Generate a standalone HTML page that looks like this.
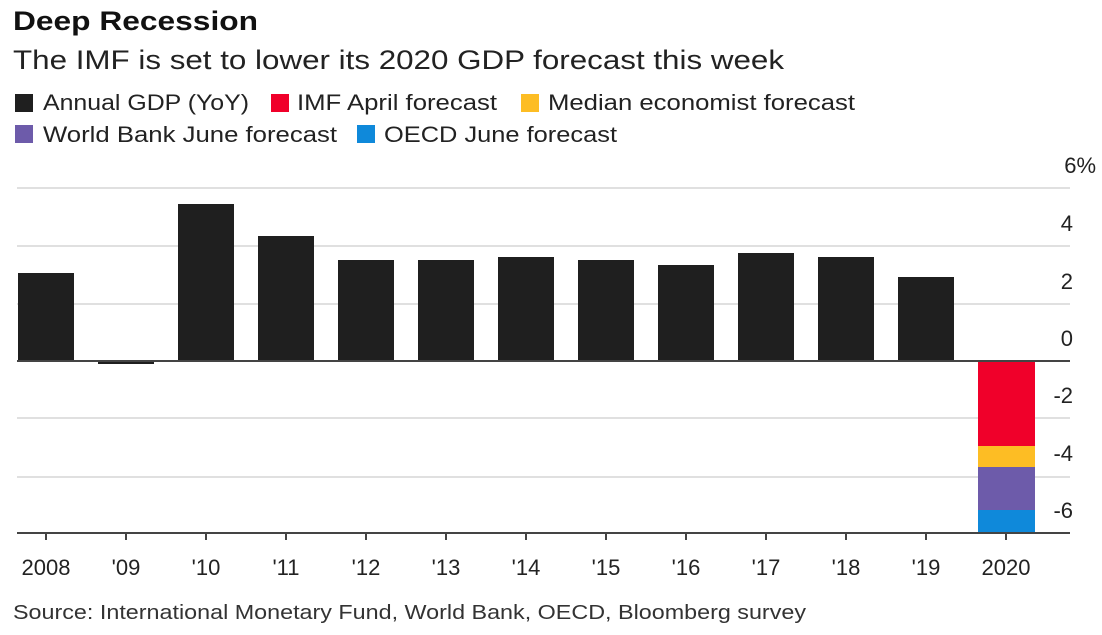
<!DOCTYPE html>
<html><head><meta charset="utf-8"><style>
html,body{margin:0;padding:0;background:#fff;}
body{width:1102px;height:630px;overflow:hidden;font-family:"Liberation Sans",sans-serif;}
</style></head><body>
<svg width="1102" height="630" xmlns="http://www.w3.org/2000/svg" font-family="Liberation Sans, sans-serif">
<text x="13" y="30" font-size="27" font-weight="bold" fill="#111" textLength="245" lengthAdjust="spacingAndGlyphs">Deep Recession</text>
<text x="13" y="69" font-size="27" fill="#222" textLength="771" lengthAdjust="spacingAndGlyphs">The IMF is set to lower its 2020 GDP forecast this week</text>
<g font-size="22" fill="#222">
<rect x="15" y="94" width="18" height="18" fill="#1f1f1f"/><text x="43" y="110" textLength="206" lengthAdjust="spacingAndGlyphs">Annual GDP (YoY)</text>
<rect x="271" y="94" width="18" height="18" fill="#f0002a"/><text x="297" y="110" textLength="200" lengthAdjust="spacingAndGlyphs">IMF April forecast</text>
<rect x="521" y="94" width="18" height="18" fill="#fdbd24"/><text x="548" y="110" textLength="307" lengthAdjust="spacingAndGlyphs">Median economist forecast</text>
<rect x="15" y="125" width="18" height="18" fill="#6d5baa"/><text x="43" y="142" textLength="294" lengthAdjust="spacingAndGlyphs">World Bank June forecast</text>
<rect x="357" y="125" width="18" height="18" fill="#0f89da"/><text x="384" y="142" textLength="233" lengthAdjust="spacingAndGlyphs">OECD June forecast</text>
</g>
<g stroke="#e0e0e0" stroke-width="2">
<line x1="17" x2="1070" y1="188" y2="188"/><line x1="17" x2="1070" y1="246" y2="246"/>
<line x1="17" x2="1070" y1="304" y2="304"/><line x1="17" x2="1070" y1="418" y2="418"/>
<line x1="17" x2="1070" y1="477" y2="477"/>
</g>
<g font-size="22" fill="#222" text-anchor="end">
<text x="1096" y="173">6%</text><text x="1073" y="231">4</text><text x="1073" y="289">2</text>
<text x="1073" y="346">0</text><text x="1073" y="403">-2</text><text x="1073" y="461">-4</text><text x="1073" y="518">-6</text>
</g>
<g fill="#1f1f1f">
<rect x="18" y="273" width="56" height="88"/>
<rect x="98" y="361" width="56" height="3"/>
<rect x="178" y="204" width="56" height="157"/>
<rect x="258" y="236" width="56" height="125"/>
<rect x="338" y="260" width="56" height="101"/>
<rect x="418" y="260" width="56" height="101"/>
<rect x="498" y="257" width="56" height="104"/>
<rect x="578" y="260" width="56" height="101"/>
<rect x="658" y="265" width="56" height="96"/>
<rect x="738" y="253" width="56" height="108"/>
<rect x="818" y="257" width="56" height="104"/>
<rect x="898" y="277" width="56" height="84"/>
</g>
<rect x="978" y="361" width="57" height="85" fill="#f0002a"/>
<rect x="978" y="446" width="57" height="21" fill="#fdbd24"/>
<rect x="978" y="467" width="57" height="43" fill="#6d5baa"/>
<rect x="978" y="510" width="57" height="23" fill="#0f89da"/>
<line x1="17" x2="1070" y1="361" y2="361" stroke="#444" stroke-width="2"/>
<line x1="17" x2="1070" y1="533" y2="533" stroke="#444" stroke-width="2"/>
<g stroke="#444" stroke-width="2">
<line x1="46" x2="46" y1="533" y2="540"/><line x1="126" x2="126" y1="533" y2="540"/><line x1="206" x2="206" y1="533" y2="540"/><line x1="286" x2="286" y1="533" y2="540"/><line x1="366" x2="366" y1="533" y2="540"/><line x1="446" x2="446" y1="533" y2="540"/><line x1="526" x2="526" y1="533" y2="540"/><line x1="606" x2="606" y1="533" y2="540"/><line x1="686" x2="686" y1="533" y2="540"/><line x1="766" x2="766" y1="533" y2="540"/><line x1="846" x2="846" y1="533" y2="540"/><line x1="926" x2="926" y1="533" y2="540"/><line x1="1006" x2="1006" y1="533" y2="540"/>
</g>
<g font-size="22" fill="#222" text-anchor="middle">
<text x="46" y="575">2008</text><text x="126" y="575">'09</text><text x="206" y="575">'10</text><text x="286" y="575">'11</text><text x="366" y="575">'12</text><text x="446" y="575">'13</text><text x="526" y="575">'14</text><text x="606" y="575">'15</text><text x="686" y="575">'16</text><text x="766" y="575">'17</text><text x="846" y="575">'18</text><text x="926" y="575">'19</text><text x="1006" y="575">2020</text>
</g>
<text x="13" y="619" font-size="20" fill="#333" textLength="793" lengthAdjust="spacingAndGlyphs">Source: International Monetary Fund, World Bank, OECD, Bloomberg survey</text>
</svg>
</body></html>
